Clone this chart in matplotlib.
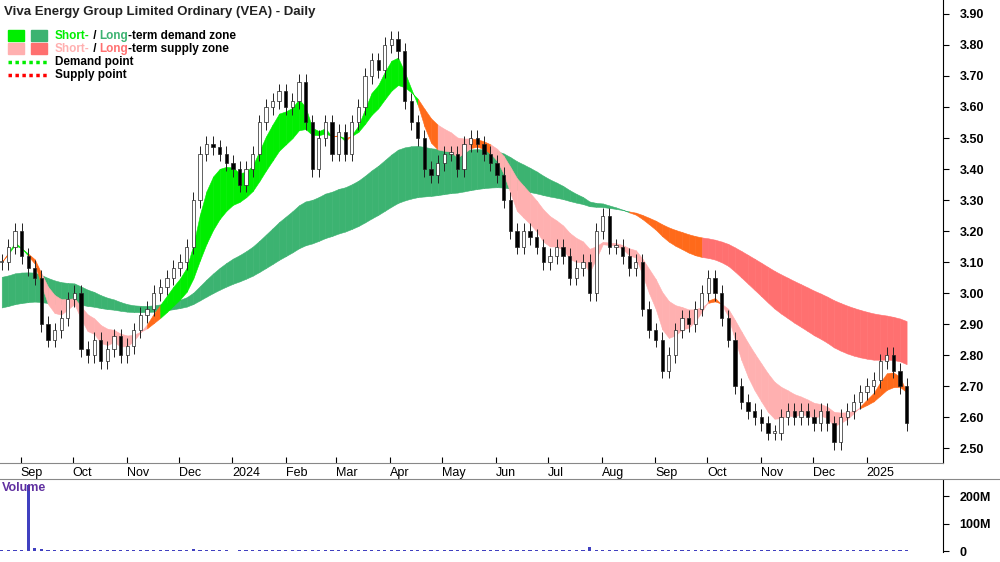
import matplotlib
matplotlib.use("Agg")
import matplotlib.pyplot as plt
import matplotlib.dates as mdates
import numpy as np
import pandas as pd

plt.rcParams["font.family"] = ["Liberation Sans", "DejaVu Sans"]

# ── data (closes, ~every 3 trading days) ────────────────────────────────────
closes = [
    3.10, 3.15, 3.20, 3.12,
    3.08, 3.05, 2.90, 2.85, 2.88, 2.92, 2.98, 3.00,
    2.82, 2.80, 2.85, 2.78, 2.82, 2.86, 2.80, 2.83,
    2.88, 2.93, 2.95, 3.00, 3.02, 3.05, 3.08, 3.10,
    3.15, 3.30, 3.45, 3.48, 3.47, 3.45, 3.42, 3.40,
    3.35, 3.40, 3.45, 3.55, 3.60, 3.62, 3.65, 3.60,
    3.62, 3.68, 3.55, 3.40, 3.50, 3.55, 3.45, 3.52,
    3.45, 3.55, 3.60, 3.70, 3.75, 3.72, 3.80, 3.82,
    3.78, 3.62, 3.55, 3.50, 3.40, 3.38, 3.42, 3.45,
    3.45, 3.40, 3.48, 3.50, 3.48, 3.45, 3.42, 3.38,
    3.30, 3.20, 3.15, 3.20, 3.18, 3.15, 3.10, 3.12,
    3.15, 3.12, 3.05, 3.08, 3.10, 3.00, 3.20, 3.25,
    3.15, 3.15, 3.12, 3.08, 3.10, 2.95, 2.88, 2.85,
    2.75, 2.80, 2.88, 2.92, 2.90, 2.95, 3.00, 3.05,
    3.00, 2.92, 2.85, 2.70, 2.65, 2.62, 2.60, 2.58,
    2.55, 2.55, 2.60, 2.62, 2.60, 2.62, 2.60, 2.58,
    2.62, 2.58, 2.52, 2.60, 2.62, 2.65, 2.68, 2.70,
    2.72, 2.78, 2.80, 2.75, 2.70, 2.58,
]
volumes = [  # millions
    5, 6, 5, 4, 240, 12, 8, 6, 5, 5, 6, 5,
    5, 4, 5, 6, 5, 4, 5, 5, 5, 6, 5, 5, 4, 5, 6, 5,
    5, 9, 7, 5, 5, 4, 4, 3, 4, 5, 5, 6, 5, 5, 6, 5,
    6, 5, 7, 6, 5, 5, 5, 6, 5, 6, 5, 5, 6, 5, 5, 6,
    6, 7, 5, 5, 6, 5, 5, 5, 5, 6, 5, 5, 5, 5, 6, 5,
    7, 6, 5, 5, 5, 4, 5, 5, 5, 5, 6, 5, 5, 18, 6, 5,
    6, 5, 5, 5, 6, 5, 6, 5, 7, 5, 5, 5, 5, 6, 5, 5,
    5, 6, 5, 7, 6, 5, 5, 5, 5, 5, 6, 5, 5, 5, 5, 5,
    5, 5, 6, 5, 5, 5, 5, 5, 6, 5, 5, 6, 5, 7,
]
seed_long = 3.0   # level of the long-term averages before the first bar
title = "Viva Energy Group Limited Ordinary (VEA) - Daily"

closes = np.array(closes)
n = len(closes)
dates = pd.date_range("2023-08-21", "2025-01-24", periods=n)
x = mdates.date2num(dates)
opens = np.r_[closes[0], closes[:-1]]

s = pd.Series(closes)
sf, ss = s.ewm(span=5).mean().values, s.ewm(span=13).mean().values
def ema(span, seed):
    a, v, out = 2 / (span + 1), seed, []
    for c in closes:
        v = v + a * (c - v)
        out.append(v)
    return np.array(out)
lf, ls = ema(42, seed_long + 0.05), ema(82, seed_long - 0.05)

GREEN, DGREEN, PINK, RED, ORANGE = "#00ee00", "#3cb371", "#ffb0b0", "#ff7070", "#ff6a1a"

fig = plt.figure(figsize=(10, 5.62), dpi=100)
ax = fig.add_axes([0.0, 1 - 463 / 562, 0.943, 463 / 562])
axv = fig.add_axes([0.0, 1 - 552 / 562, 0.943, 72 / 562])

# zones
lcol, since = [], 99
for i in range(n):
    if lf[i] > ls[i]:
        since = 0
        lcol.append(DGREEN)
    else:
        since += 1
        lcol.append(ORANGE if since < 12 else RED)
lo_l, hi_l = np.minimum(lf, ls), np.maximum(lf, ls)
scol = np.where((sf > ss) & (sf > lo_l), GREEN,
                np.where((sf < ss) & (sf < hi_l), PINK, ORANGE))
for i in range(n - 1):
    ax.fill_between(x[i:i + 2], lf[i:i + 2], ls[i:i + 2], color=lcol[i], lw=0.4,
                    ec=lcol[i], zorder=1)
    ax.fill_between(x[i:i + 2], sf[i:i + 2], ss[i:i + 2], color=scol[i], lw=0.4,
                    ec=scol[i], zorder=2)

# candles
w = (x[1] - x[0]) * 0.5
for xi, o, c in zip(x, opens, closes):
    hi, lo = max(o, c) + 0.025, min(o, c) - 0.025
    ax.vlines(xi, lo, hi, color="#222222", lw=0.7, zorder=3)
    ax.bar(xi, max(abs(c - o), 0.004), bottom=min(o, c), width=w,
           color="white" if c >= o else "black", edgecolor="#222222", lw=0.5, zorder=4)

ax.set_xlim(x[0] - 1, mdates.date2num(pd.Timestamp("2025-02-14")))
ax.set_ylim(2.452, 3.945)
ax.yaxis.tick_right()
ax.set_yticks(np.arange(2.5, 3.95, 0.1))
ax.set_yticklabels([f"{v:.2f}" for v in np.arange(2.5, 3.95, 0.1)], fontsize=9, fontweight="bold")
months = pd.date_range("2023-09-01", "2025-01-01", freq="MS")
ax.set_xticks(mdates.date2num(months))
ax.set_xticklabels(["2024" if m.month == 1 and m.year == 2024 else "2025" if m.year == 2025
                    else m.strftime("%b") for m in months], fontsize=9, ha="left")
ax.tick_params(axis="x", direction="in", pad=3, length=4)
ax.tick_params(axis="y", length=4, pad=8)
for sp in ["top", "left"]:
    ax.spines[sp].set_visible(False)
ax.spines["bottom"].set_color("#888888")

axv.bar(x, np.array(volumes) * 1e6, width=w, color="#4040c0")
axv.set_xlim(ax.get_xlim())
axv.set_ylim(-2e6, 260e6)
axv.yaxis.tick_right()
axv.set_yticks([0, 100e6, 200e6])
axv.set_yticklabels(["0", "100M", "200M"], fontsize=9, fontweight="bold")
axv.set_xticks([])
axv.tick_params(axis="y", length=4, pad=8)
for sp in ["top", "left", "bottom"]:
    axv.spines[sp].set_visible(False)
fig.text(0.002, 1 - 482 / 562, "Volume", fontsize=9, color="#6030a0", va="top", fontweight="bold")
fig.add_artist(plt.Line2D([0, 1], [1 - 479 / 562] * 2, color="#888888", lw=0.8))

# title + legend
fig.text(0.004, 0.99, title, fontsize=9.5, va="top", fontweight="bold", color="#222222")
def patch(px, py, c):
    fig.add_artist(plt.Rectangle((px / 1000, 1 - (py + 11) / 562), 16 / 1000, 11 / 562, color=c))
patch(8, 30, GREEN); patch(31, 30, DGREEN); patch(8, 43, PINK); patch(31, 43, RED)
ty = lambda py: 1 - py / 562
def seg(px, py, parts):
    t = None
    for txt, c in parts:
        if t is None:
            t = fig.text(px / 1000, ty(py), txt, color=c, fontsize=8.5, fontweight="bold", va="center")
        else:
            t = ax.annotate(txt, xycoords=t, xy=(1, 0), va="bottom", color=c, fontsize=8.5,
                            fontweight="bold", annotation_clip=False)
seg(55, 36, [("Short-", GREEN), (" / ", "black"), ("Long", DGREEN), ("-term demand zone", "black")])
seg(55, 49, [("Short-", PINK), (" / ", "black"), ("Long", RED), ("-term supply zone", "black")])
seg(55, 62, [("Demand point", "black")])
seg(55, 75, [("Supply point", "black")])
fig.add_artist(plt.Line2D([0.008, 0.047], [ty(62)] * 2, color=GREEN, lw=2.5, ls=(0, (1, 1))))
fig.add_artist(plt.Line2D([0.008, 0.047], [ty(75)] * 2, color="red", lw=2.5, ls=(0, (1, 1))))

fig.savefig("out.png", dpi=100)
